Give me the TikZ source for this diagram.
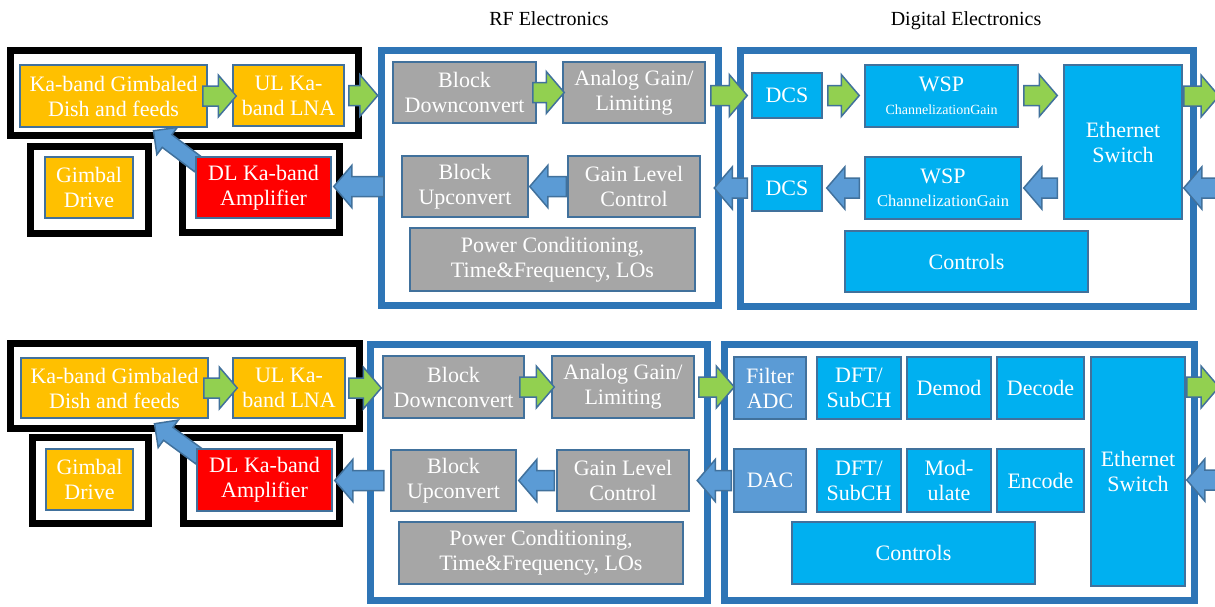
\documentclass[tikz,border=0pt]{standalone}
\usepackage{fontspec}
\setmainfont{Liberation Serif}
\usepackage{tikz}
\usetikzlibrary{arrows.meta,positioning,calc}
\definecolor{boxedge}{RGB}{65,113,156}
\definecolor{chassisblue}{RGB}{46,117,182}
\definecolor{dishgold}{RGB}{255,192,0}
\definecolor{ampred}{RGB}{255,0,0}
\definecolor{rfgray}{RGB}{166,166,166}
\definecolor{dspcyan}{RGB}{0,176,240}
\definecolor{convblue}{RGB}{91,155,213}
\definecolor{upgreen}{RGB}{146,208,80}
\definecolor{downblue}{RGB}{91,155,213}
\newcommand{\unitfont}{\rmfamily\fontsize{22}{25}\selectfont}
\newcommand{\headerfont}{\rmfamily\fontsize{20}{24}\selectfont}
\newcommand{\shafthalf}{10pt}
\newcommand{\headhalf}{21pt}
\newcommand{\headlen}{18pt}
\pgfdeclarelayer{back}
\pgfsetlayers{back,main}
\tikzset{
    cell/.style n args={4}{
        at={({(#1+#3)/2},{(#2+#4)/2})},
        minimum width={#3-#1},
        minimum height={#4-#2}
    },
    unitbox/.style={
        draw=boxedge,
        line width=1.5pt,
        inner sep=0pt,
        align=center,
        text=white,
        font=\unitfont
    },
    dishbox/.style={unitbox, fill=dishgold},
    ampbox/.style={unitbox, fill=ampred},
    rfbox/.style={unitbox, fill=rfgray},
    dspbox/.style={unitbox, fill=dspcyan},
    convbox/.style={unitbox, fill=convblue},
    mountframe/.style={
        draw=black,
        line width=7pt,
        inner sep=0pt
    },
    chassis/.style={
        draw=chassisblue,
        line width=7.5pt,
        inner sep=0pt
    },
    shaft half/.store in=\shafthalf,
    head half/.store in=\headhalf,
    head len/.store in=\headlen,
    blockarrow/.style={
        draw=boxedge,
        line width=1.5pt,
        line join=miter,
        to path={
            let \p1=(\tikztostart), \p2=(\tikztotarget),
                \p3=($(\p2)!\headlen!(\p1)$)
            in ($(\p1)!\shafthalf!90:(\p2)$)
            -- ($(\p3)!\shafthalf!90:(\p2)$)
            -- ($(\p3)!\headhalf!90:(\p2)$)
            -- (\p2)
            -- ($(\p3)!\headhalf!-90:(\p2)$)
            -- ($(\p3)!\shafthalf!-90:(\p2)$)
            -- ($(\p1)!\shafthalf!-90:(\p2)$)
            -- cycle
        }
    },
    uplink/.style={blockarrow, fill=upgreen},
    downlink/.style={blockarrow, fill=downblue}
}

\begin{document}
\begin{tikzpicture}[x=1pt, y=-1pt]
    \useasboundingbox (0,0) rectangle (1215,606);

    \node[font=\headerfont, anchor=base] (rftitle) at (549,25) {RF Electronics};
    \node[font=\headerfont, anchor=base] (dgtitle) at (966,25) {Digital Electronics};

    % upper chain
    \node[chassis, cell={381.5}{50.5}{718.5}{305.5}] (rfT) {};
    \node[chassis, cell={740.5}{50.5}{1193.5}{306.5}] (dgT) {};
    \begin{pgfonlayer}{back}
        \node[mountframe, cell={10.5}{50.5}{358.5}{135.5}] (mountT) {};
        \node[mountframe, cell={30.5}{146.5}{148.5}{233.5}] (gdframeT) {};
        \node[mountframe, cell={182.5}{146.5}{339.5}{232.5}] (ampframeT) {};
    \end{pgfonlayer}

    \node[dishbox, cell={20}{65}{207}{127}] (dishT)
        {Ka-band Gimbaled\\Dish and feeds};
    \node[dishbox, cell={233}{65}{344}{126}] (lnaT)
        {UL Ka-\\band LNA};
    \node[dishbox, cell={45}{157}{133}{218}] (gimbalT)
        {Gimbal\\Drive};
    \node[ampbox, cell={196}{157}{331}{218}] (ampT)
        {DL Ka-band\\Amplifier};

    \node[rfbox, cell={393}{62}{536}{123}] (bdcT)
        {Block\\Downconvert};
    \node[rfbox, cell={563}{62}{705}{123}] (aglT)
        {Analog Gain/\\Limiting};
    \node[rfbox, cell={402}{156}{528}{217}] (bucT)
        {Block\\Upconvert};
    \node[rfbox, cell={568}{156}{700}{217}] (glcT)
        {Gain Level\\Control};
    \node[rfbox, cell={410}{228}{695}{291}] (pwrT)
        {Power Conditioning,\\Time\&Frequency, LOs};

    \node[dspbox, cell={752}{73}{822}{118}] (dcsupT) {DCS};
    \node[dspbox, cell={865}{65}{1018}{127}] (wspupT)
        {WSP\\[-2pt]{\fontsize{14}{16}\selectfont ChannelizationGain}};
    \node[dspbox, cell={1064}{65}{1182}{219}] (ethT)
        {Ethernet\\Switch};
    \node[dspbox, cell={752}{166}{822}{211}] (dcsdnT) {DCS};
    \node[dspbox, cell={865}{157}{1021}{219}] (wspdnT)
        {WSP\\[-2pt]{\fontsize{16.5}{18}\selectfont ChannelizationGain}};
    \node[dspbox, cell={845}{231}{1088}{292}] (ctlT) {Controls};

    \coordinate (outT) at (1219,96);
    \coordinate (inT) at (1226,188);

    \path[uplink] ($(dishT.east)+(-5,0)$) to ($(dishT.east -| lnaT.west)+(4,0)$);
    \path[uplink] ($(lnaT.east)+(4,0)$) to (lnaT.east -| rfT.west);
    \path[uplink] ($(bdcT.east)+(-4,0)$) to ($(bdcT.east -| aglT.west)+(2,0)$);
    \path[uplink] ($(dcsupT.west -| aglT.east)+(5,0)$) to ($(dcsupT.west)+(-4,0)$);
    \path[uplink] ($(dcsupT.east)+(5,0)$) to ($(dcsupT.east -| wspupT.west)+(-5,0)$);
    \path[uplink] ($(dcsupT.east -| wspupT.east)+(5,0)$) to ($(dcsupT.east -| ethT.west)+(-6,0)$);
    \path[uplink] ($(outT -| ethT.east)+(1,0)$) to (outT);
    \path[downlink] (inT) to ($(inT -| ethT.east)+(1,0)$);
    \path[downlink] ($(wspdnT.east -| ethT.west)+(-6,0)$) to ($(wspdnT.east)+(2,0)$);
    \path[downlink] ($(wspdnT.west)+(-5,0)$) to ($(wspdnT.west -| dcsdnT.east)+(4,0)$);
    \path[downlink] ($(wspdnT.west -| dcsdnT.west)+(-4,0)$) to ($(wspdnT.west -| rfT.east)+(-8,0)$);
    \path[downlink] ($(glcT.west)+(-1,0)$) to ($(glcT.west -| bucT.east)+(1,0)$);
    \path[downlink] ($(glcT.west -| rfT.west)+(6,0)$) to ($(glcT.west -| ampT.east)+(2,0)$);
    \begin{pgfonlayer}{back}
        \path[downlink, shaft half=8pt, head half=17pt, head len=17pt]
            ($(ampT.north west)+(4,9)$) to ($(dishT.south)+(40,3)$);
    \end{pgfonlayer}

    % lower chain
    \node[chassis, cell={370.5}{344.5}{707.5}{600.5}] (rfB) {};
    \node[chassis, cell={724.5}{344.5}{1194.5}{600.5}] (dgB) {};
    \begin{pgfonlayer}{back}
        \node[mountframe, cell={10.5}{343.5}{359.5}{428.5}] (mountB) {};
        \node[mountframe, cell={32.5}{437.5}{148.5}{523.5}] (gdframeB) {};
        \node[mountframe, cell={183.5}{437.5}{339.5}{523.5}] (ampframeB) {};
    \end{pgfonlayer}

    \node[dishbox, cell={21}{358}{208}{418}] (dishB)
        {Ka-band Gimbaled\\Dish and feeds};
    \node[dishbox, cell={233}{358}{345}{418}] (lnaB)
        {UL Ka-\\band LNA};
    \node[dishbox, cell={46}{449}{133}{510}] (gimbalB)
        {Gimbal\\Drive};
    \node[ampbox, cell={197}{449}{332}{511}] (ampB)
        {DL Ka-band\\Amplifier};

    \node[rfbox, cell={383}{356}{524}{418}] (bdcB)
        {Block\\Downconvert};
    \node[rfbox, cell={552}{356}{694}{418}] (aglB)
        {Analog Gain/\\Limiting};
    \node[rfbox, cell={391}{450}{516}{511}] (bucB)
        {Block\\Upconvert};
    \node[rfbox, cell={557}{450}{689}{511}] (glcB)
        {Gain Level\\Control};
    \node[rfbox, cell={399}{522}{683}{584}] (pwrB)
        {Power Conditioning,\\Time\&Frequency, LOs};

    \node[convbox, cell={734}{357}{806}{419}] (fadcB) {Filter\\ADC};
    \node[dspbox, cell={817}{357}{901}{419}] (dftupB) {DFT/\\SubCH};
    \node[dspbox, cell={907}{357}{991}{419}] (demodB) {Demod};
    \node[dspbox, cell={997}{357}{1084}{419}] (decodeB) {Decode};
    \node[dspbox, cell={1091}{357}{1185}{586}] (ethB) {Ethernet\\Switch};
    \node[convbox, cell={734}{449}{806}{512}] (dacB) {DAC};
    \node[dspbox, cell={817}{449}{901}{512}] (dftdnB) {DFT/\\SubCH};
    \node[dspbox, cell={907}{449}{991}{512}] (modB) {Mod-\\ulate};
    \node[dspbox, cell={997}{449}{1084}{512}] (encodeB) {Encode};
    \node[dspbox, cell={792}{522}{1035}{584}] (ctlB) {Controls};

    \coordinate (outB) at (1219,387);
    \coordinate (inB) at (1226,480);

    \path[uplink] ($(dishB.east)+(-5,0)$) to ($(dishB.east -| lnaB.west)+(5,0)$);
    \path[uplink] ($(lnaB.east)+(3,0)$) to ($(lnaB.east -| bdcB.west)+(-1,0)$);
    \path[uplink] ($(bdcB.east)+(-5,0)$) to ($(bdcB.east -| aglB.west)+(3,0)$);
    \path[uplink] ($(aglB.east)+(4,0)$) to ($(aglB.east -| fadcB.west)+(1,0)$);
    \path[uplink] ($(outB -| ethB.east)+(1,0)$) to (outB);
    \path[downlink] (inB) to ($(inB -| ethB.east)+(1,0)$);
    \path[downlink] ($(dacB.west)+(-2,0)$) to ($(dacB.west -| rfB.east)+(-14,0)$);
    \path[downlink] ($(glcB.west)+(-2,0)$) to ($(glcB.west -| bucB.east)+(2,0)$);
    \path[downlink] ($(glcB.west -| rfB.west)+(17,0)$) to ($(glcB.west -| ampB.east)+(2,0)$);
    \begin{pgfonlayer}{back}
        \path[downlink, shaft half=8pt, head half=17pt, head len=17pt]
            ($(ampB.north west)+(4,9)$) to ($(dishB.south)+(40,5)$);
    \end{pgfonlayer}
\end{tikzpicture}
\end{document}
